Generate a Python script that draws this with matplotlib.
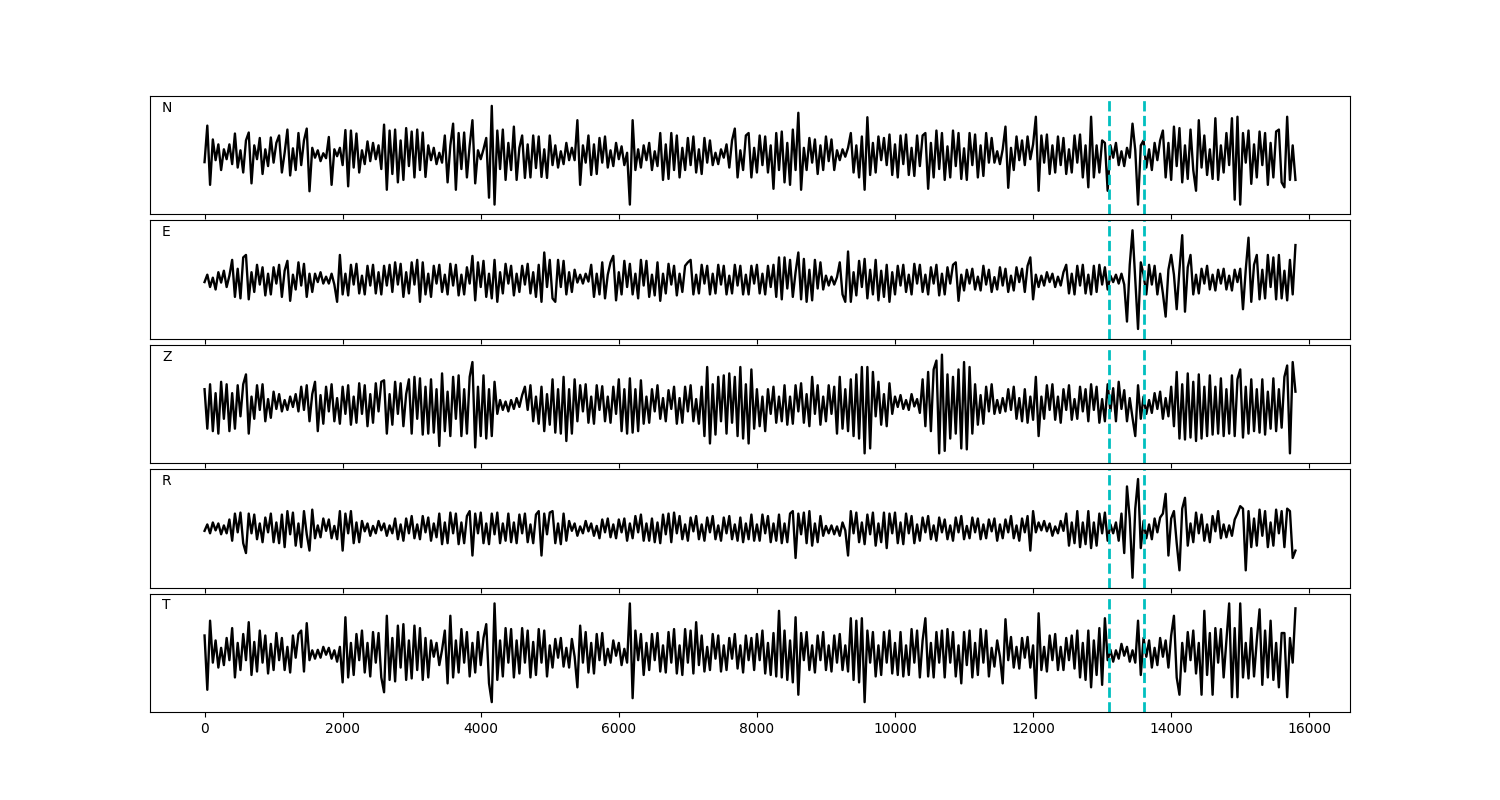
import numpy as np
import matplotlib
matplotlib.use("Agg")
import matplotlib.pyplot as plt

# sample spacing of the digitised extrema (samples)
STEP = 40
PICK_1 = 13100
PICK_2 = 13600
channels = ["N", "E", "Z", "R", "T"]

N = [-14, 60, -60, 32, -10, 22, -30, 12, -8, 22,
     -18, 44, -25, 10, -35, 30, 46, -57, 20, -8,
     35, -38, 12, -22, 36, -15, 25, 40, -35, 5,
     52, -41, 14, -30, 45, -20, 30, 54, -73, 15,
     -5, 10, -12, 4, -6, 37, -60, 12, -2, 15,
     -20, 51, -63, 50, -25, 44, -35, 10, -18, 28,
     -12, 25, -8, 20, -28, 62, -70, 50, -38, 52,
     -55, 30, -50, 55, -22, 48, -45, 52, -30, 46,
     -44, 20, -10, 15, -18, 5, -15, 40, -55, 20,
     64, -70, 45, -28, 46, -45, 20, 71, -57, 10,
     -8, 12, 35, -86, 100, -100, 50, -28, 52, -50,
     25, -30, 58, -50, 15, 40, -46, 22, -45, 40,
     -26, 38, -44, 12, -46, 40, -20, 20, -25, 8,
     -18, 25, -10, 15, -10, 71, -60, 20, -15, 40,
     -40, 22, -38, 35, -15, 38, -25, 10, -22, 25,
     -8, 18, -20, 5, -100, 71, -30, 12, -25, 20,
     -10, 25, -30, 8, -22, 45, -50, 22, -48, 45,
     -30, 40, -45, 15, -30, 35, -20, 38, -35, 12,
     -38, 35, -15, 30, -20, 5, -18, 12, -5, 22,
     -25, 30, 54, -45, 10, -30, 40, 45, -45, 15,
     -35, 40, -20, 38, -35, 20, -68, 45, -30, 48,
     -55, 25, -60, 52, -30, 86, -70, 15, -30, 35,
     -15, 32, -38, 20, -30, 38, -12, 32, -30, 10,
     -10, 12, -3, 15, 45, -35, 20, -45, 38, -70,
     77, -40, 25, -35, 38, -10, 35, -20, 42, -40,
     22, -45, 40, -18, 42, -40, 15, -42, 40, -22,
     40, 45, -68, 25, -45, 50, -28, 45, -50, 18,
     -45, 50, -22, 45, -48, 14, -50, 45, -20, 42,
     -45, 20, -42, 45, -15, 35, -15, 8, -18, 12,
     58, -66, 15, -30, 38, -10, 30, -20, 38, -8,
     22, 78, -72, 40, -15, 42, -38, 20, -35, 38,
     -20, 35, -38, 12, -35, 40, -15, 42, -45, 20,
     -65, 78, -45, 20, -35, 30, 25, -72, 20, -5,
     25, -20, 8, -22, 15, -5, 64, 10, -100, 20,
     30, -25, 12, -30, 25, -10, 30, 50, -45, 25,
     -50, 58, -22, 55, -55, 20, -48, 52, -30, -72,
     71, -25, 40, -40, 12, -48, 75, -50, 20, -35,
     45, -20, 75, -90, 78, -100, 45, -15, 50, -58,
     22, -45, 48, -20, 45, -60, 25, -45, 48, 52,
     -55, -65, 78, -50, 20, -50]

E = [-5, 10, -15, 4, -20, 15, -6, 18, -15, 8,
     40, -35, 22, -38, 45, 50, -40, 15, -25, 30,
     -10, 25, -32, 12, -30, 25, -8, 30, -35, 18,
     38, -43, 10, -20, 35, -12, 32, -35, 12, -25,
     12, -5, 15, -8, 6, -8, 12, -10, -45, 50,
     -30, 12, -32, 30, -10, 32, -28, 8, -30, 28,
     -12, 30, -28, 15, -30, 28, -12, 30, -25, 35,
     -10, 32, -35, 15, -28, 35, -10, 40, -45, 35,
     -30, 12, -35, 28, -8, 30, -25, 10, -30, 32,
     -12, 30, -32, 10, -30, 25, -8, 48, -42, 35,
     -15, 38, -35, 12, -38, 40, -45, 15, -28, 32,
     -8, 28, -32, 12, -25, 28, -10, 32, -28, 15,
     -35, 30, -45, 55, -15, 40, -38, -45, 40, -15,
     38, -30, 15, -25, 20, -6, 10, -8, 12, -4,
     30, -35, 12, -30, 35, -38, 10, 35, 48, -42,
     15, -30, 38, -15, 32, -30, 12, -38, 40, -12,
     38, -35, 10, -32, 35, -43, 12, -28, 32, -10,
     28, -32, 12, -25, 28, 35, 40, -30, 10, -28,
     30, -8, 28, -30, 12, -28, 30, -10, 28, -30,
     8, -28, 30, -12, 28, -30, 10, -30, 28, -8,
     30, -28, 12, -30, 28, -15, 30, -35, 45, -40,
     45, -18, 40, -35, 15, 55, -40, 42, -45, 20,
     -42, 40, -18, 35, -20, 8, -12, 6, -10, 5,
     35, -30, -45, 57, -45, 15, -32, 38, -15, 42,
     -38, 20, -30, 40, -42, 18, -35, 30, -45, 15,
     -30, 28, -12, 30, -25, 10, -30, 32, -8, 30,
     -25, 10, -30, 25, -8, 30, -32, 12, -30, 25,
     -8, 30, 35, -43, 10, -22, 20, -8, 22, -20,
     6, -22, 28, -10, 20, -25, 5, -20, 25, -12,
     22, -25, 8, -22, 25, -5, 22, -25, 28, 45,
     -40, 10, -15, 8, -12, 15, -5, 12, -15, 6,
     -12, 15, 30, -28, 12, -30, 28, -12, 30, -28,
     10, -30, 28, -25, 30, -10, 25, -20, 8, -5,
     10, -8, 12, -10, -85, 30, 100, 0, -100, 35,
     10, -30, 30, -10, 28, -30, 12, -28, -75, 20,
     50, 10, -60, 20, 90, -65, 25, 50, -30, 10,
     -28, 22, -8, 28, -20, 10, -22, 20, -8, 22,
     -20, 8, -22, 20, -5, 22, -60, 20, 85, -45,
     30, 50, -40, 20, -38, 50, -15, 45, -40, 50,
     -38, 18, -42, 40, -30, 70]

Z = [30, -50, 40, -55, 22, -60, 45, -30, 40, -55,
     22, -50, 38, -25, 40, 60, -60, 15, -30, 38,
     -12, 40, -35, 10, -28, 25, -10, 20, -15, 8,
     -12, 15, -6, 20, -15, 35, -12, 38, -35, 20,
     45, -55, 18, -40, 35, -15, 40, -35, 12, -40,
     35, -20, 38, -42, 15, -38, 42, -20, 38, -45,
     20, -38, 42, -15, 45, 48, -60, 20, -42, 45,
     -20, 42, -45, 20, 50, -60, 55, -30, 52, -62,
     35, -60, 50, -58, 30, -85, 62, -55, 25, -65,
     55, -30, 58, -65, 30, -60, 55, 85, -88, 35,
     -65, 58, -70, 30, -65, 45, -20, 8, -12, 5,
     -15, 8, -10, 12, -6, 18, 35, -12, 38, -35,
     15, -40, 35, -55, 20, -42, 50, -58, 30, -60,
     55, -75, 30, -60, 50, -35, 38, -15, 40, -38,
     15, -40, 38, -12, 36, -35, 15, -38, 35, -20,
     50, -55, 30, -60, 52, -58, 30, -55, 48, -40,
     15, -38, 30, -15, 38, -30, 12, -35, 28, -10,
     35, -40, 12, -38, 35, -15, 38, -35, 10, -40,
     35, -65, 75, -80, 40, -62, 55, -35, 58, -60,
     62, -38, 55, -65, 75, -70, 40, -80, 70, -50,
     30, -45, 15, -55, 30, -20, 35, -38, 15, -35,
     38, -42, 15, -40, 38, -15, 42, -38, 20, -45,
     55, -20, 38, -42, 15, -35, 38, -20, 35, -60,
     55, -50, 30, -55, 50, -65, 60, -70, 75, -100,
     75, -90, 65, -25, 45, -42, 20, -45, 42, -20,
     15, -6, 18, -10, 8, -12, 20, -5, 10, -18,
     50, -45, 65, -55, 70, 88, -100, 100, -95, 60,
     -70, 55, -60, 70, -90, 85, -92, 75, -60, 40,
     -42, 18, -40, 35, -15, 40, -20, 8, -18, 12,
     -15, 30, -12, 35, -30, 12, -35, 30, -38, 15,
     -32, 55, -65, 15, -30, 38, -12, 40, -32, 15,
     -38, 30, -12, 38, -32, 10, -30, 35, -15, 30,
     -35, 40, -12, 35, -38, 10, -35, 40, -15, 32,
     -35, 45, -10, 28, -35, 12, -28, -65, 38, -30,
     15, -20, 8, -18, 22, -10, 25, -30, 12, -25,
     35, -45, 65, -70, 40, -72, 62, -68, 45, -75,
     60, -70, 35, -65, 58, -62, 35, -60, 52, -65,
     30, -60, 58, -65, 50, 70, -68, 35, -60, 50,
     -55, 30, -58, 50, -62, 25, -50, 52, -55, 30,
     -48, 55, 78, -100, 85, 25]

R = [-5, 8, -10, 12, -4, 10, -12, 6, -10, 18,
     -25, 30, -8, 32, -30, -50, 30, -10, 28, -22,
     10, -28, 22, -8, 30, -28, 12, -30, 28, -38,
     35, -12, 32, -35, 10, -38, 35, -12, -45, 38,
     -20, 6, -18, 20, -5, 18, -20, 5, -22, 35,
     -45, 30, -10, 35, -30, 12, -28, 15, -6, 10,
     -15, 5, -10, 15, -4, 10, -15, 6, -10, 20,
     -22, 8, -25, 20, -10, 25, -20, 8, -22, 25,
     -8, 22, -25, 10, -18, 30, -32, 12, -30, 32,
     -10, 30, -32, 12, -30, 25, 35, -55, 30, -10,
     32, -30, 10, -32, 30, -12, 32, -30, 10, -25,
     30, -28, 12, -30, 28, -10, 30, -28, 8, -30,
     28, 35, -55, 30, -12, 32, 35, -30, 10, -32,
     30, -25, 15, -5, 10, -15, 4, -10, 15, -6,
     10, -15, 5, -20, 18, -8, 20, -18, 8, -20,
     18, -8, 20, -25, 10, -20, 25, -8, 28, -25,
     10, -25, 20, -28, 12, -30, 28, -12, 30, -28,
     32, -10, 25, -22, 8, -25, 22, -6, 25, -22,
     8, -25, 22, -8, 25, -22, 6, -25, 22, -10,
     25, -22, 8, -25, 22, -28, 10, -22, 28, -25,
     8, -25, 28, -10, 25, -28, 10, -25, 28, -30,
     10, -28, 30, 35, -60, 30, -12, 32, -30, 35,
     -35, 10, -28, 25, -15, 5, -10, 6, -12, 4,
     -15, 12, -4, -55, 35, -10, 32, -28, 12, -32,
     28, -12, 32, -35, 10, -28, 32, -40, 30, -10,
     32, -30, 12, -32, 30, -10, 25, -30, 8, -25,
     22, -8, 25, -22, 6, -25, 22, -8, 18, -22,
     6, -25, 22, -8, 25, -22, 5, -20, 22, -8,
     20, -22, 8, -20, 18, -6, 20, -25, 8, -20,
     18, -8, 25, -20, 6, -25, 20, -8, 25, -45,
     35, -8, 12, -4, 15, -6, 10, -15, 4, -10,
     15, -5, 30, -35, 12, -30, 35, -38, 12, -32,
     35, -40, 12, -35, 30, -10, 32, -25, 8, -10,
     12, -25, 30, -50, 85, 20, -100, 40, 100, -40,
     15, -20, 8, -22, 20, -8, 22, 30, 70, -55,
     20, 35, -30, -85, 40, 62, -35, 10, -28, 32,
     -10, 28, -25, 8, -28, 25, -6, 35, -20, 8,
     -18, 6, -15, 18, 30, 45, 40, -85, 35, -38,
     20, -35, 38, -15, 35, -38, 12, -35, 38, -10,
     35, -38, 40, 35, -60, -45]

T = [35, -75, 65, -20, 25, -30, 10, -25, 30, -15,
     50, -50, 20, -35, 38, -15, 62, -45, 22, -38,
     45, -20, 35, -42, 18, -35, 40, -15, 30, -35,
     12, -40, 35, -10, 38, 45, -38, 60, -15, 5,
     -12, 6, -10, 12, -4, 10, -12, 5, -18, 12,
     -60, 72, -50, 20, -45, 38, -15, 45, -40, 20,
     -48, 42, -20, 40, -50, -80, 75, -55, 30, -58,
     55, -30, 58, -55, 25, -52, 55, -35, 50, -55,
     30, -50, 25, -8, 20, -25, 6, 45, -62, 75,
     -50, 25, -40, 48, -20, 42, -48, 20, -40, 42,
     -25, 30, 58, -62, -100, 100, -55, 25, -48, 50,
     -20, 48, -50, 25, -42, 50, -20, 45, -50, 22,
     -45, 48, -20, 45, -48, 15, -30, 28, -10, 30,
     -28, 10, -30, 28, -8, -70, 55, -20, 42, -40,
     20, -42, 38, -15, 40, -25, 8, -20, 25, -6,
     20, -25, 8, -20, 100, -92, 45, -15, 38, -45,
     20, -35, 38, -15, 40, -38, 15, -40, 42, -20,
     48, -42, 15, -45, 48, -20, 45, -42, 62, -25,
     35, -38, 12, -35, 38, -12, 35, -38, 15, -35,
     30, -12, 38, -32, 15, -40, 35, -15, 30, -35,
     38, -15, 45, -42, 20, -45, 40, -48, 85, -50,
     45, -55, 25, -60, 72, -85, 40, -15, 42, -35,
     15, -40, 35, -15, 42, -35, 15, -38, 35, -20,
     38, -35, 15, -38, 70, -55, 65, -60, 70, -100,
     45, -20, 42, -48, 15, -45, 42, -20, 45, -42,
     20, -45, 42, -48, 15, -45, 48, -20, 45, -50,
     25, 70, -48, 20, -50, 42, -20, 45, -50, 48,
     -20, 42, -48, 15, -62, 42, -25, 45, -50, 20,
     -45, 48, -20, 45, -48, 10, -28, 25, -8, -62,
     68, -15, 32, -30, 12, -32, 30, -10, 32, -30,
     15, -92, 80, -35, 12, -38, 35, -15, 38, -35,
     12, -35, 30, -15, 35, -32, 45, -50, 20, -55,
     45, -70, 25, -45, 50, -65, 70, -15, 6, -18,
     5, -12, 18, -6, 12, -18, 5, -20, 65, -45,
     30, -8, 25, -30, 10, -25, 30, -8, 25, -30,
     35, 75, -50, -85, 20, -38, 42, -15, 45, -42,
     20, -85, 85, -45, 40, -85, 50, -20, 48, -50,
     25, 100, -90, 50, -90, 100, -50, 20, -52, 50,
     -48, 25, 88, -65, 45, -50, 65, -55, 20, -70,
     40, 40, -90, 30, -20, 90]

traces = [N, E, Z, R, T]

fig, axes = plt.subplots(5, 1, figsize=(15, 8), dpi=100, sharex=True)
fig.subplots_adjust(left=0.1, right=0.9, top=0.88, bottom=0.11, hspace=0.05)

for ax, name, tr in zip(axes, channels, traces):
    y = np.asarray(tr, dtype=float) / 100.0
    x = np.arange(len(y)) * STEP
    ax.plot(x, y, color="black", lw=1.7)
    ax.axvline(PICK_1, color="c", ls="--", lw=2)
    ax.axvline(PICK_2, color="c", ls="--", lw=2)
    ax.set_ylim(-1.2, 1.2)
    ax.set_yticks([])
    ax.text(0.01, 0.9, name, transform=ax.transAxes, va="center", ha="left",
            fontsize=10)

axes[-1].set_xlim(-790, 16590)
axes[-1].set_xticks([0, 2000, 4000, 6000, 8000, 10000, 12000, 14000, 16000])

fig.savefig("out.png", dpi=100)
